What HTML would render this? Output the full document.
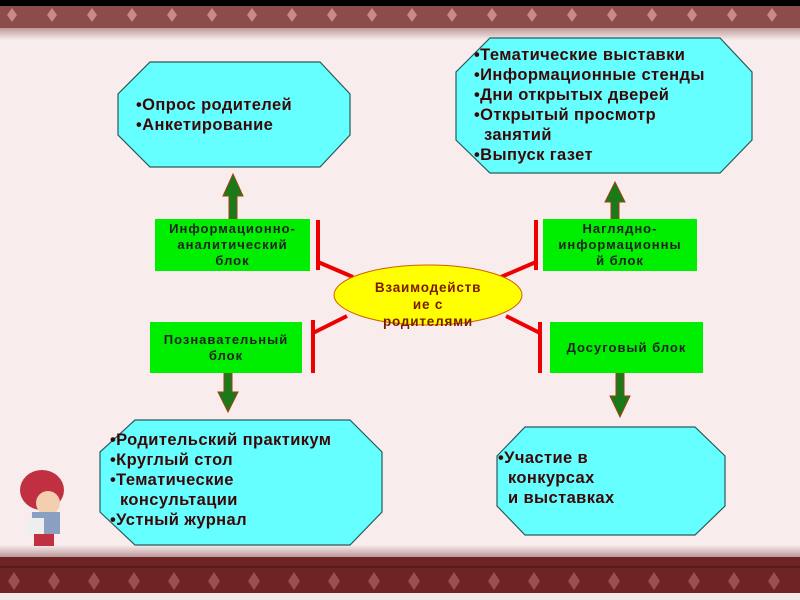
<!DOCTYPE html>
<html><head><meta charset="utf-8"><style>
body{margin:0;width:800px;height:600px;overflow:hidden;background:#f8eced;font-family:"Liberation Sans",sans-serif;position:relative}
.t{position:absolute;font-weight:bold;font-size:16.5px;letter-spacing:0.4px;line-height:20px;color:#3a0808;white-space:nowrap}
.g{position:absolute;background:#00ee00;text-align:center;font-size:13px;letter-spacing:1px;line-height:16px;color:#222;font-weight:bold;display:flex;align-items:center;justify-content:center;white-space:nowrap}
</style></head><body>
<svg width="800" height="600" style="position:absolute;left:0;top:0">
<defs><linearGradient id="sh" x1="0" y1="0" x2="0" y2="1"><stop offset="0" stop-color="#b99"/><stop offset="1" stop-color="#f8eced"/></linearGradient>
<linearGradient id="sh2" x1="0" y1="1" x2="0" y2="0"><stop offset="0" stop-color="#b99"/><stop offset="1" stop-color="#f8eced"/></linearGradient></defs>
<rect x="0" y="0" width="800" height="6" fill="#000"/>
<rect x="0" y="6" width="800" height="22" fill="#8c4c4c"/>
<rect x="0" y="28" width="800" height="12" fill="url(#sh)"/>
<rect x="0" y="545" width="800" height="12" fill="url(#sh2)"/>
<rect x="0" y="557" width="800" height="36" fill="#6e2424"/>
<rect x="0" y="566" width="800" height="2" fill="#5a1a1a"/>
<rect x="0" y="593" width="800" height="7" fill="#f5e8e8"/>
<g fill="#c88">
<path d="M12 8l5 7-5 7-5-7z"/><path d="M52 8l5 7-5 7-5-7z"/><path d="M92 8l5 7-5 7-5-7z"/><path d="M132 8l5 7-5 7-5-7z"/><path d="M172 8l5 7-5 7-5-7z"/><path d="M212 8l5 7-5 7-5-7z"/><path d="M252 8l5 7-5 7-5-7z"/><path d="M292 8l5 7-5 7-5-7z"/><path d="M332 8l5 7-5 7-5-7z"/><path d="M372 8l5 7-5 7-5-7z"/><path d="M412 8l5 7-5 7-5-7z"/><path d="M452 8l5 7-5 7-5-7z"/><path d="M492 8l5 7-5 7-5-7z"/><path d="M532 8l5 7-5 7-5-7z"/><path d="M572 8l5 7-5 7-5-7z"/><path d="M612 8l5 7-5 7-5-7z"/><path d="M652 8l5 7-5 7-5-7z"/><path d="M692 8l5 7-5 7-5-7z"/><path d="M732 8l5 7-5 7-5-7z"/><path d="M772 8l5 7-5 7-5-7z"/>
</g>
<g fill="#9a5050">
<path d="M14 572l6 9-6 9-6-9z"/><path d="M54 572l6 9-6 9-6-9z"/><path d="M94 572l6 9-6 9-6-9z"/><path d="M134 572l6 9-6 9-6-9z"/><path d="M174 572l6 9-6 9-6-9z"/><path d="M214 572l6 9-6 9-6-9z"/><path d="M254 572l6 9-6 9-6-9z"/><path d="M294 572l6 9-6 9-6-9z"/><path d="M334 572l6 9-6 9-6-9z"/><path d="M374 572l6 9-6 9-6-9z"/><path d="M414 572l6 9-6 9-6-9z"/><path d="M454 572l6 9-6 9-6-9z"/><path d="M494 572l6 9-6 9-6-9z"/><path d="M534 572l6 9-6 9-6-9z"/><path d="M574 572l6 9-6 9-6-9z"/><path d="M614 572l6 9-6 9-6-9z"/><path d="M654 572l6 9-6 9-6-9z"/><path d="M694 572l6 9-6 9-6-9z"/><path d="M734 572l6 9-6 9-6-9z"/><path d="M774 572l6 9-6 9-6-9z"/>
</g>
<g fill="#66ffff" stroke="#2a5a5a" stroke-width="1.2">
<polygon points="150,62 320,62 350,94 350,135 320,167 150,167 118,135 118,94"/>
<polygon points="490,38 720,38 752,72 752,140 720,173 490,173 456,140 456,72"/>
<polygon points="135,420 350,420 382,452 382,512 350,545 135,545 100,512 100,452"/>
<polygon points="525,427 695,427 725,456 725,506 695,535 525,535 497,506 497,456"/>
</g>
<g stroke="#e00" stroke-width="4" fill="none">
<path d="M318 220V270M318 262L353 277"/>
<path d="M536 220V270M536 262L501 277"/>
<path d="M313 320V373M313 333L347 316"/>
<path d="M540 322V373M540 333L506 316"/>
</g>
<ellipse cx="428" cy="295" rx="94" ry="30" fill="#ffff00" stroke="#d06000" stroke-width="1"/>
<g fill="#1a7a1a" stroke="#a04010" stroke-width="1">
<path d="M229 219V196H223L233 174L243 196H237V219Z"/>
<path d="M611 219V202H605L615 182L625 202H619V219Z"/>
<path d="M224 373V392H218L228 412L238 392H232V373Z"/>
<path d="M616 373V396H610L620 417L630 396H624V373Z"/>
</g>
<g>
<ellipse cx="42" cy="490" rx="22" ry="20" fill="#c03040"/>
<circle cx="48" cy="503" r="12" fill="#f3cfb0"/>
<rect x="32" y="512" width="28" height="22" fill="#8aa0c0"/>
<rect x="28" y="518" width="16" height="16" fill="#eee"/>
<rect x="34" y="534" width="20" height="12" fill="#c03040"/>
</g>
</svg>
<div class="t" style="left:136px;top:95px">•Опрос родителей<br>•Анкетирование</div>
<div class="t" style="left:474px;top:45px">•Тематические выставки<br>•Информационные стенды<br>•Дни открытых дверей<br>•Открытый просмотр<br>&nbsp;&nbsp;занятий<br>•Выпуск газет</div>
<div class="t" style="left:110px;top:430px">•Родительский практикум<br>•Круглый стол<br>•Тематические<br>&nbsp;&nbsp;консультации<br>•Устный журнал</div>
<div class="t" style="left:498px;top:448px">•Участие в<br>&nbsp;&nbsp;конкурсах<br>&nbsp;&nbsp;и выставках</div>
<div class="g" style="left:155px;top:219px;width:155px;height:52px">Информационно-<br>аналитический<br>блок</div>
<div class="g" style="left:543px;top:219px;width:154px;height:52px">Наглядно-<br>информационны<br>й блок</div>
<div class="g" style="left:150px;top:322px;width:152px;height:51px">Познавательный<br>блок</div>
<div class="g" style="left:550px;top:322px;width:153px;height:51px">Досуговый блок</div>
<div style="position:absolute;left:350px;top:279px;width:156px;text-align:center;font-size:13.5px;letter-spacing:0.8px;line-height:17px;font-weight:bold;color:#7a1a00">Взаимодейств<br>ие с<br>родителями</div>
</body></html>
